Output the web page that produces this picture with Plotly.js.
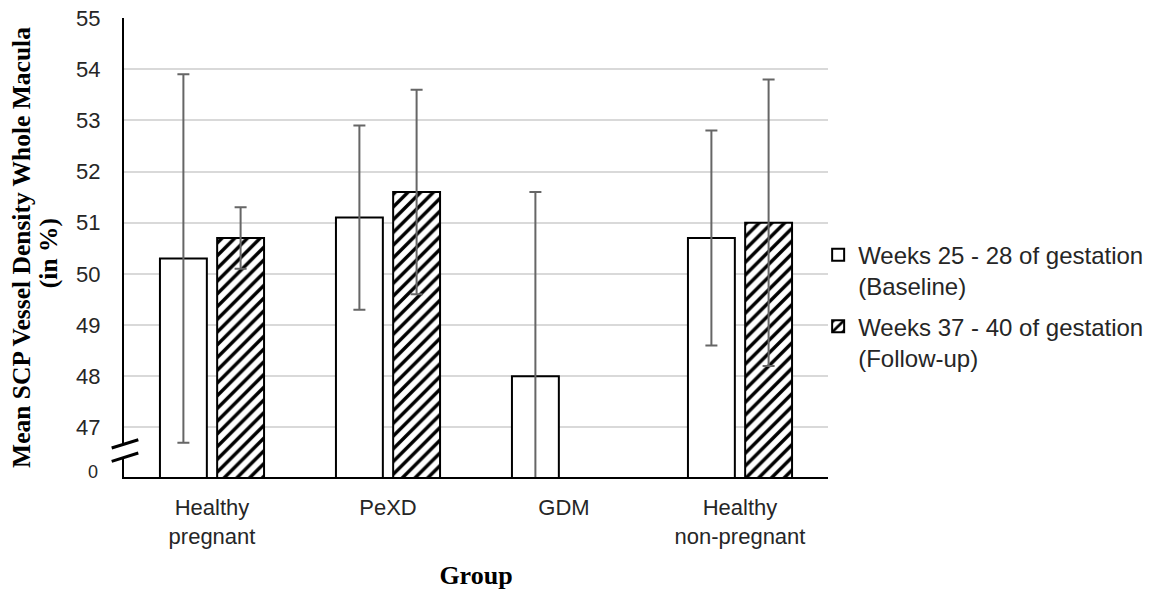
<!DOCTYPE html>
<html>
<head>
<meta charset="utf-8">
<script src="https://cdn.plot.ly/plotly-3.0.1.min.js"></script>
<style>html,body{margin:0;padding:0;background:#fff;}#chart{width:1173px;height:592px;}</style>
</head>
<body>
<div id="chart"></div>
<script>
// Data
const groups = ["Healthy<br>pregnant", "PeXD", "GDM", "Healthy<br>non-pregnant"];
const baselineName = "Weeks 25 - 28 of gestation<br>(Baseline)";
const followupName = "Weeks 37 - 40 of gestation<br>(Follow-up)";
const baselineMean = [50.3, 51.1, 48.0, 50.7];
const baselineSD = [3.6, 1.8, 3.6, 2.1];
const followupMean = [50.7, 51.6, null, 51.0];
const followupSD = [0.6, 2.0, null, 2.8];
const yTickVals = [47, 48, 49, 50, 51, 52, 53, 54, 55];
const yTickText = ["47", "48", "49", "50", "51", "52", "53", "54", "55"];
const brokenAxisLabel = "0";
const yTitleLine1 = "Mean SCP Vessel Density Whole Macula";
const yTitleLine2 = "(in %)";
const xTitle = "Group";

const sansFamily = "Liberation Sans, Arial, sans-serif";
const serifFamily = "Liberation Serif, Times New Roman, serif";
const tickFont = {family: sansFamily, size: 22, color: "#262626"};
const yTitleFont = {family: serifFamily, size: 25.5, color: "#000000", weight: "bold"};
const xTitleFont = {family: serifFamily, size: 26, color: "#000000", weight: "bold"};

const traces = [
  {
    type: "bar",
    name: baselineName,
    x: groups,
    y: baselineMean,
    legendgroup: "a",
    marker: {color: "#ffffff", line: {color: "#000000", width: 2}},
    error_y: {type: "data", array: baselineSD, visible: true, color: "#666666", thickness: 2, width: 6}
  },
  {
    type: "bar",
    name: followupName,
    x: groups,
    y: followupMean,
    legendgroup: "b",
    marker: {
      color: "#ffffff",
      line: {color: "#000000", width: 2},
      pattern: {shape: "/", fgcolor: "#000000", bgcolor: "#ffffff", size: 9, solidity: 0.38, fillmode: "replace"}
    },
    error_y: {type: "data", array: followupSD, visible: true, color: "#666666", thickness: 2, width: 6}
  }
];

const yLo = 46.03, yHi = 55;

const layout = {
  width: 1173,
  height: 592,
  margin: {l: 124, r: 345, t: 18, b: 115},
  paper_bgcolor: "#ffffff",
  plot_bgcolor: "#ffffff",
  barmode: "group",
  bargap: 0.35,
  bargroupgap: 0.18,
  showlegend: true,
  legend: {
    x: 0.986, xanchor: "left", y: 0.372, yanchor: "middle",
    font: {family: sansFamily, size: 24, color: "#262626"},
    valign: "top", tracegroupgap: 6, bgcolor: "rgba(0,0,0,0)"
  },
  xaxis: {
    type: "category",
    showline: true, linecolor: "#000000", linewidth: 2,
    showgrid: false, zeroline: false, ticks: "",
    tickfont: tickFont,
    ticklabelstandoff: 10,
    title: {text: xTitle, font: xTitleFont, standoff: 18}
  },
  yaxis: {
    range: [yLo, yHi],
    tickvals: yTickVals, ticktext: yTickText,
    showline: true, linecolor: "#000000", linewidth: 2,
    showgrid: true, gridcolor: "#d9d9d9", gridwidth: 2,
    zeroline: false, ticks: "",
    tickfont: tickFont,
    ticklabelstandoff: 17,
    title: {text: yTitleLine1, font: yTitleFont, standoff: 38}
  },
  annotations: [
    {xref: "paper", yref: "paper", x: -0.107, y: 0.487, text: yTitleLine2, textangle: -90, showarrow: false,
     xanchor: "center", yanchor: "middle", font: yTitleFont},
    {xref: "paper", yref: "y", x: -0.034, y: 46.12, text: brokenAxisLabel, showarrow: false,
     xanchor: "right", yanchor: "middle", font: {family: sansFamily, size: 18, color: "#262626"}}
  ],
  shapes: [
    {type: "path", xref: "paper", yref: "y", layer: "above",
     path: "M -0.0175,46.596 L 0.0203,46.758 L 0.0203,46.498 L -0.0175,46.334 Z",
     fillcolor: "#ffffff", line: {width: 0}},
    {type: "line", xref: "paper", yref: "y", layer: "above", x0: -0.0175, y0: 46.596, x1: 0.0203, y1: 46.758,
     line: {color: "#000000", width: 3}},
    {type: "line", xref: "paper", yref: "y", layer: "above", x0: -0.0175, y0: 46.334, x1: 0.0203, y1: 46.498,
     line: {color: "#000000", width: 3}}
  ]
};

Plotly.newPlot("chart", traces, layout, {displayModeBar: false, staticPlot: true});
</script>
</body>
</html>
